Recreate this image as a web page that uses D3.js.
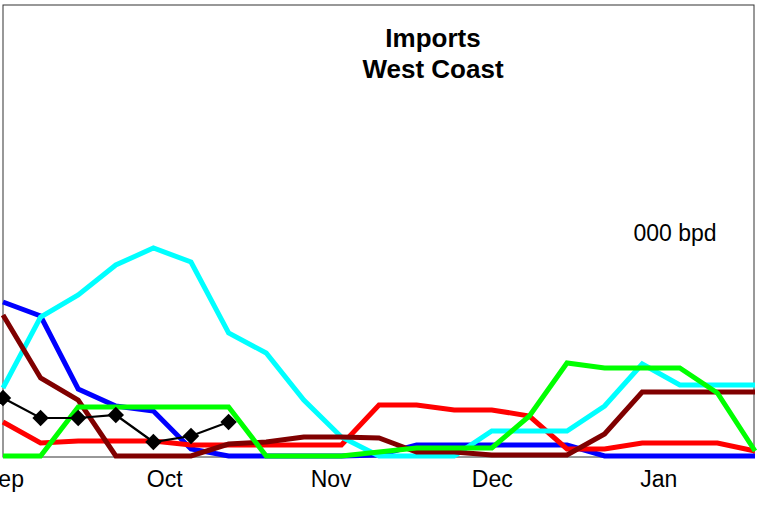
<!DOCTYPE html>
<html>
<head>
<meta charset="utf-8">
<script src="https://cdn.jsdelivr.net/npm/d3@7"></script>
<style>
  html, body { margin: 0; padding: 0; background: #fff; }
  svg { display: block; }
  text { font-family: "Liberation Sans", Arial, sans-serif; }
</style>
</head>
<body>
<svg id="chart" width="761" height="506"></svg>
<script>
// ---- Data (000 bpd, weekly) ----
const weeks = ["2000-09-01","2000-09-08","2000-09-15","2000-09-22","2000-09-29",
  "2000-10-06","2000-10-13","2000-10-20","2000-10-27","2000-11-03","2000-11-10",
  "2000-11-17","2000-11-24","2000-12-01","2000-12-08","2000-12-15","2000-12-22",
  "2000-12-29","2001-01-05","2001-01-12","2001-01-19"];
const blueSeries   = [154, 140, 67, 50, 45, 7, 0, 0, 0, 0, 1, 11, 11, 11, 11, 11, 0, 0, 0, 0, 0];
const redSeries    = [34, 13, 15, 15, 15, 11, 11, 11, 11, 11, 51, 51, 46, 46, 40, 7, 7, 13, 13, 13, 5];
const cyanSeries   = [68, 139, 161, 191, 208, 194, 123, 103, 56, 19, 0, 0, 0, 25, 25, 25, 50, 92, 71, 71, 71];
const maroonSeries = [141, 78, 56, 0, 0, 0, 12, 14, 19, 19, 18, 4, 4, 1, 1, 1, 22, 64, 64, 64, 64];
const greenSeries  = [0, 0, 49, 49, 49, 49, 49, 0, 0, 0, 4, 8, 8, 8, 40, 93, 88, 88, 88, 63, 5];
const blackSeries  = [58, 38, 38, 41, 14, 20, 34];
const titleLines = ["Imports", "West Coast"];
const unitLabel = "000 bpd";

(function () {
const parse = d3.timeParse("%Y-%m-%d");
const dates = weeks.map(parse);

const svg = d3.select("#chart");
const plotLeft = 3, plotRight = 755, plotBottom = 457;

const x = d3.scaleTime().domain([dates[0], dates[dates.length - 1]]).range([plotLeft, plotRight]);
const y = d3.scaleLinear().domain([0, 451]).range([456, 5]);

// frame
svg.append("rect")
  .attr("x", 3).attr("y", 5).attr("width", 751).attr("height", 452)
  .attr("fill", "none").attr("stroke", "#333").attr("stroke-width", 1);

// x axis (month labels)
const axis = d3.axisBottom(x)
  .ticks(d3.timeMonth.every(1))
  .tickFormat(d3.timeFormat("%b"))
  .tickSize(0).tickPadding(14);
const ax = svg.append("g").attr("transform", `translate(0,${plotBottom})`).call(axis);
ax.select(".domain").remove();
ax.selectAll("text")
  .attr("font-size", 23).attr("fill", "#000")
  .attr("font-family", "'Liberation Sans', Arial, sans-serif");

const line = d3.line().x((d, i) => x(dates[i])).y(d => y(d));

const series = [
  { v: blueSeries, c: "#0000FF", w: 5 },
  { v: redSeries, c: "#FF0000", w: 5 },
  { v: cyanSeries, c: "#00FFFF", w: 5 },
  { v: maroonSeries, c: "#800000", w: 5 },
  { v: greenSeries, c: "#00FF00", w: 5 }
];
series.forEach(s => {
  svg.append("path").datum(s.v)
    .attr("d", line)
    .attr("fill", "none").attr("stroke", s.c)
    .attr("stroke-width", s.w).attr("stroke-linejoin", "miter");
});

// black series with diamonds
svg.append("path").datum(blackSeries)
  .attr("d", line).attr("fill", "none")
  .attr("stroke", "#000").attr("stroke-width", 2.2);
const diamond = d3.symbol().type(d3.symbolSquare).size(135);
svg.selectAll("path.mk").data(blackSeries).enter().append("path")
  .attr("class", "mk")
  .attr("d", diamond)
  .attr("transform", (d, i) => `translate(${x(dates[i])},${y(d)}) rotate(45)`)
  .attr("fill", "#000");

// title
const t = svg.append("text").attr("text-anchor", "middle")
  .attr("font-size", 26).attr("font-weight", "bold").attr("fill", "#000");
t.append("tspan").attr("x", 433).attr("y", 47).text(titleLines[0]);
t.append("tspan").attr("x", 433).attr("y", 78).text(titleLines[1]);

// unit label
svg.append("text").attr("x", 675).attr("y", 241).attr("text-anchor", "middle")
  .attr("font-size", 23).attr("fill", "#000").text(unitLabel);
})();
</script>
</body>
</html>
